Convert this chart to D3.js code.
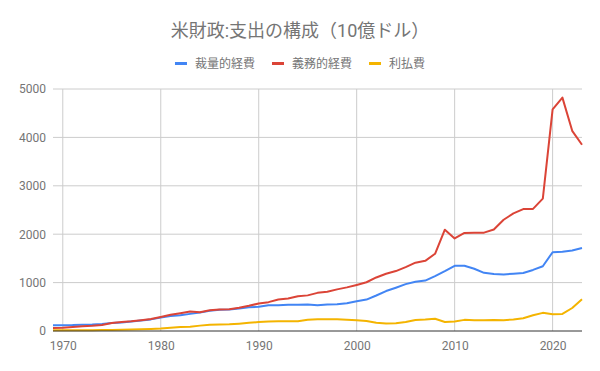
<!DOCTYPE html>
<html>
<head>
<meta charset="utf-8">
<script src="https://cdn.jsdelivr.net/npm/d3@7"></script>
<style>
	body { margin: 0; background: #fff; }
	svg { display: block; font-family: Roboto, 'Noto Sans CJK JP', sans-serif; }
</style>
</head>
<body>
<svg id="chart"></svg>
<script>
	'use strict';

	var years = d3.range(1969, 2024);

	// 裁量的経費
	var discretionary = [121, 120, 123, 131, 134, 143, 163, 176, 197, 219, 240,
		277, 308, 326, 354, 380, 416, 439, 445, 464, 489,
		501, 534, 534, 540, 544, 545, 533, 547, 552, 572,
		615, 649, 734, 825, 895, 968, 1016, 1041, 1135, 1237,
		1347, 1347, 1286, 1202, 1179, 1168, 1185, 1200, 1262, 1338,
		1628, 1636, 1662, 1715];

	// 義務的経費
	var mandatory = [60, 68, 84, 98, 107, 123, 165, 188, 203, 224, 246,
		290, 335, 367, 402, 387, 427, 446, 451, 479, 521,
		568, 596, 649, 672, 716, 736, 788, 810, 860, 901,
		952, 1007, 1106, 1182, 1238, 1320, 1411, 1450, 1595, 2093,
		1913, 2026, 2030, 2032, 2096, 2299, 2429, 2519, 2522, 2735,
		4579, 4822, 4136, 3848];

	// 利払費
	var netInterest = [13, 14, 15, 16, 17, 21, 23, 27, 30, 35, 43,
		53, 69, 85, 90, 111, 130, 136, 139, 152, 169,
		184, 194, 199, 199, 203, 232, 241, 244, 241, 230,
		223, 206, 171, 153, 160, 184, 227, 237, 253, 187,
		196, 230, 220, 221, 229, 223, 240, 263, 325, 375,
		345, 352, 475, 658];

	var seriesNames = ['裁量的経費', '義務的経費', '利払費'];
	var seriesColors = ['#4285f4', '#db4437', '#f4b400'];
	var xTicks = [1970, 1980, 1990, 2000, 2010, 2020];
	var yTicks = [0, 1000, 2000, 3000, 4000, 5000];
	var title = '米財政:支出の構成（10億ドル）';

	var width = 600, height = 371;
	var margin = {top: 89, right: 18, bottom: 40, left: 53};

	var svg = d3.select('#chart')
		.attr('width', width)
		.attr('height', height);

	var x = d3.scaleLinear()
		.domain([1969, 2023])
		.range([margin.left, width - margin.right]);

	var y = d3.scaleLinear()
		.domain([0, 5000])
		.range([height - margin.bottom, margin.top]);

	// gridlines
	svg.append('g')
		.selectAll('line.h')
		.data(yTicks.slice(1))
		.enter().append('line')
		.attr('x1', margin.left).attr('x2', width - margin.right)
		.attr('y1', function (d) { return y(d); })
		.attr('y2', function (d) { return y(d); })
		.attr('stroke', '#cccccc').attr('stroke-width', 1);

	svg.append('g')
		.selectAll('line.v')
		.data(xTicks)
		.enter().append('line')
		.attr('x1', function (d) { return x(d); })
		.attr('x2', function (d) { return x(d); })
		.attr('y1', y(5000)).attr('y2', y(0))
		.attr('stroke', '#cccccc').attr('stroke-width', 1);

	// axes (labels only, gridlines drawn above)
	var xAxis = svg.append('g')
		.attr('transform', 'translate(0,' + y(0) + ')')
		.call(d3.axisBottom(x).tickValues(xTicks).tickFormat(d3.format('d')).tickSize(0).tickPadding(10));
	xAxis.select('.domain').remove();

	var yAxis = svg.append('g')
		.attr('transform', 'translate(' + margin.left + ',0)')
		.call(d3.axisLeft(y).tickValues(yTicks).tickFormat(d3.format('d')).tickSize(0).tickPadding(7));
	yAxis.select('.domain').remove();

	svg.selectAll('.tick text')
		.attr('fill', '#757575')
		.style('font-size', '12px')
		.style('font-family', 'Roboto, sans-serif');

	var line = d3.line()
		.x(function (d) { return x(d[0]); })
		.y(function (d) { return y(d[1]); });

	[discretionary, mandatory, netInterest].forEach(function (vals, i) {
		svg.append('path')
			.datum(years.map(function (yr, j) { return [yr, vals[j]]; }))
			.attr('fill', 'none')
			.attr('stroke', seriesColors[i])
			.attr('stroke-width', 2)
			.attr('stroke-linejoin', 'round')
			.attr('d', line);
	});

	// baseline
	svg.append('line')
		.attr('x1', margin.left).attr('x2', width - margin.right)
		.attr('y1', y(0)).attr('y2', y(0))
		.attr('stroke', '#333333').attr('stroke-width', 1);

	// title
	svg.append('text')
		.attr('x', width / 2)
		.attr('y', 37)
		.attr('text-anchor', 'middle')
		.attr('fill', '#757575')
		.style('font-size', '18px')
		.text(title);

	// legend, centred
	var legend = svg.append('g');
	var items = legend.selectAll('g')
		.data(seriesNames)
		.enter().append('g');
	items.append('rect')
		.attr('width', 12).attr('height', 3)
		.attr('y', 62)
		.attr('fill', function (d, i) { return seriesColors[i]; });
	items.append('text')
		.attr('x', 20).attr('y', 68)
		.attr('fill', '#757575')
		.style('font-size', '12px')
		.text(function (d) { return d; });

	var gap = 17, offset = 0;
	items.each(function () {
		var w = this.getBBox().width;
		d3.select(this).attr('transform', 'translate(' + offset + ',0)');
		offset += w + gap;
	});
	offset -= gap;
	legend.attr('transform', 'translate(' + (width - offset) / 2 + ',0)');
</script>
</body>
</html>
